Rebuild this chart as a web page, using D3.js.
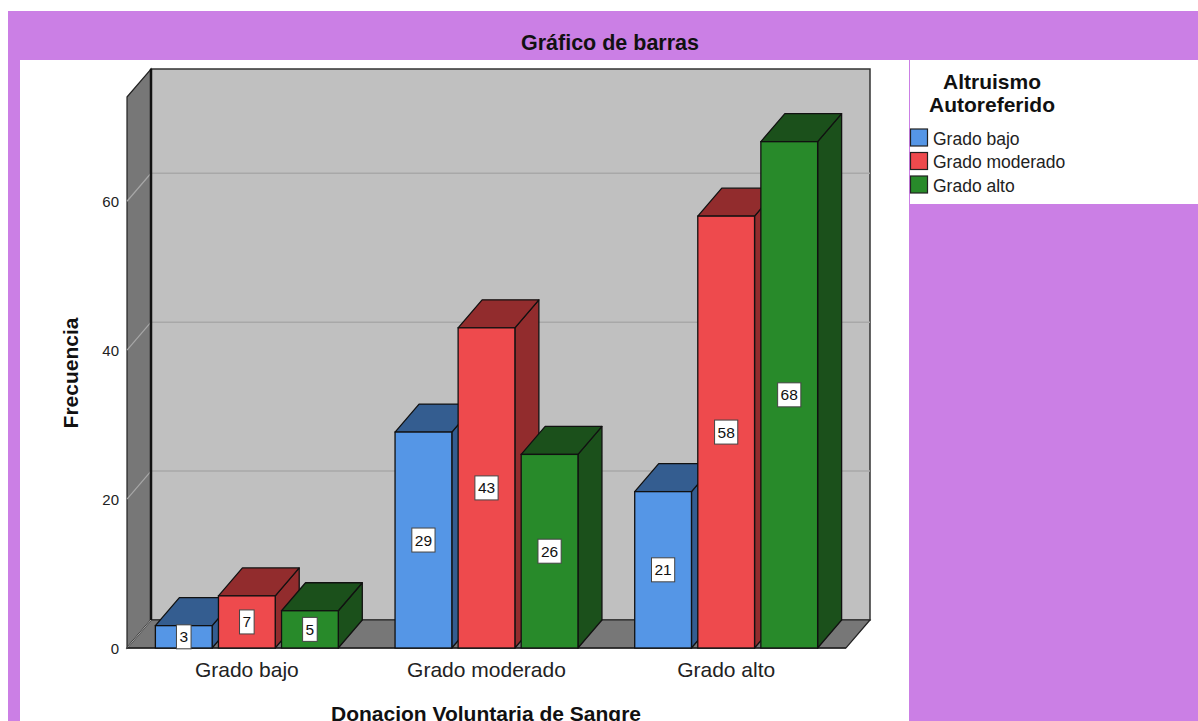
<!DOCTYPE html>
<html>
<head>
<meta charset="utf-8">
<script src="https://cdn.jsdelivr.net/npm/d3@7/dist/d3.min.js"></script>
<style>
  html, body { margin: 0; padding: 0; background: #ffffff; }
  svg { display: block; }
  text { font-family: "Liberation Sans", Arial, sans-serif; }
</style>
</head>
<body>
<svg id="chart" width="1198" height="721"></svg>
<script>
// ---- data ----
const categories = ["Grado bajo", "Grado moderado", "Grado alto"];
const series = ["Grado bajo", "Grado moderado", "Grado alto"];
const valuesBajo = [3, 29, 21];       // Altruismo: Grado bajo
const valuesModerado = [7, 43, 58];   // Altruismo: Grado moderado
const valuesAlto = [5, 26, 68];       // Altruismo: Grado alto
const yTicks = [0, 20, 40, 60];
const yMax = 74;

const chartTitle = "Gráfico de barras";
const xTitle = "Donacion Voluntaria de Sangre";
const yTitle = "Frecuencia";
const legendTitle = ["Altruismo", "Autoreferido"];

const seriesValues = [valuesBajo, valuesModerado, valuesAlto];
const frontColors = ["#5596E6", "#EE4A4D", "#288A2A"];
const darkColors  = ["#345D90", "#922C2D", "#1B501B"];

// ---- layout ----
const svg = d3.select("#chart");
const purple = "#CB7FE5";
const dx = 24, dy = -28;
const floorY = 648;

// backgrounds
svg.append("rect").attr("x", 8).attr("y", 11).attr("width", 1190).attr("height", 710).attr("fill", purple);
svg.append("rect").attr("x", 20).attr("y", 60).attr("width", 889).attr("height", 661).attr("fill", "#ffffff");
svg.append("rect").attr("x", 910).attr("y", 60).attr("width", 288).attr("height", 144).attr("fill", "#ffffff");

// title
svg.append("text").attr("x", 610).attr("y", 50).attr("text-anchor", "middle")
  .attr("font-size", 21.5).attr("font-weight", "bold").attr("fill", "#111").text(chartTitle);

// scales
const x0 = d3.scaleBand().domain(categories).range([127, 846]).padding(0);
const x1 = d3.scaleBand().domain(series).range([0, x0.bandwidth()]).paddingInner(0.1).paddingOuter(0.45);
const y = d3.scaleLinear().domain([0, yMax]).range([floorY, 97]);

const xL = x0.range()[0], xR = x0.range()[1];
const yTop = y(yMax);

const pts = a => a.map(p => p.join(",")).join(" ");

// back wall
svg.append("polygon")
  .attr("points", pts([[xL + dx, yTop + dy], [xR + dx, yTop + dy], [xR + dx, floorY + dy], [xL + dx, floorY + dy]]))
  .attr("fill", "#C0C0C0").attr("stroke", "#333").attr("stroke-width", 1.5);
// left wall
svg.append("polygon")
  .attr("points", pts([[xL, yTop], [xL + dx, yTop + dy], [xL + dx, floorY + dy], [xL, floorY]]))
  .attr("fill", "#777777").attr("stroke", "#222").attr("stroke-width", 1.2);
// floor
svg.append("polygon")
  .attr("points", pts([[xL, floorY], [xL + dx, floorY + dy], [xR + dx, floorY + dy], [xR, floorY]]))
  .attr("fill", "#777777").attr("stroke", "#222").attr("stroke-width", 1.2);

// gridlines
const grid = yTicks.filter(t => t > 0);
svg.selectAll(".gridBack").data(grid).enter().append("line")
  .attr("x1", xL + dx).attr("x2", xR + dx)
  .attr("y1", d => y(d) + dy).attr("y2", d => y(d) + dy)
  .attr("stroke", "#A8A8A8").attr("stroke-width", 1.5);
svg.selectAll(".gridSide").data(grid).enter().append("line")
  .attr("x1", xL).attr("x2", xL + dx)
  .attr("y1", d => y(d)).attr("y2", d => y(d) + dy)
  .attr("stroke", "#A8A8A8").attr("stroke-width", 1.2);
svg.append("line").attr("x1", xL).attr("y1", floorY).attr("x2", xL + dx).attr("y2", floorY + dy)
  .attr("stroke", "#A8A8A8").attr("stroke-width", 1);

// strong back-left corner line
svg.append("line").attr("x1", xL + dx).attr("x2", xL + dx).attr("y1", yTop + dy).attr("y2", floorY + dy)
  .attr("stroke", "#111").attr("stroke-width", 2.5);
// front floor edge
svg.append("line").attr("x1", xL).attr("x2", xR).attr("y1", floorY).attr("y2", floorY)
  .attr("stroke", "#222").attr("stroke-width", 1.5);

// y tick labels
svg.selectAll(".ytick").data(yTicks).enter().append("text")
  .attr("x", 119).attr("y", d => y(d) + 5.5).attr("text-anchor", "end")
  .attr("font-size", 15).attr("fill", "#222").text(d => d);

// bars
const bars = [];
categories.forEach((c, ci) => {
  series.forEach((s, si) => {
    bars.push({ cat: c, ser: s, si: si, v: seriesValues[si][ci] });
  });
});

const barG = svg.append("g");
bars.forEach(b => {
  const bx = x0(b.cat) + x1(b.ser);
  const w = x1.bandwidth();
  const yv = y(b.v), y0 = y(0);
  const g = barG.append("g");
  g.append("polygon")
    .attr("points", pts([[bx + w, yv], [bx + w + dx, yv + dy], [bx + w + dx, y0 + dy], [bx + w, y0]]))
    .attr("fill", darkColors[b.si]).attr("stroke", "#111").attr("stroke-width", 1.3).attr("stroke-linejoin", "round");
  g.append("polygon")
    .attr("points", pts([[bx, yv], [bx + dx, yv + dy], [bx + w + dx, yv + dy], [bx + w, yv]]))
    .attr("fill", darkColors[b.si]).attr("stroke", "#111").attr("stroke-width", 1.3).attr("stroke-linejoin", "round");
  g.append("rect").attr("x", bx).attr("y", yv).attr("width", w).attr("height", y0 - yv)
    .attr("fill", frontColors[b.si]).attr("stroke", "#111").attr("stroke-width", 1.3);
});

// data labels
bars.forEach(b => {
  const cx = x0(b.cat) + x1(b.ser) + x1.bandwidth() / 2;
  const cy = (y(b.v) + y(0)) / 2;
  const txt = String(b.v);
  const tw = txt.length * 8.6 + 6;
  svg.append("rect").attr("x", cx - tw / 2).attr("y", cy - 12).attr("width", tw).attr("height", 24)
    .attr("fill", "#ffffff").attr("stroke", "#444").attr("stroke-width", 1);
  svg.append("text").attr("x", cx).attr("y", cy + 5.5).attr("text-anchor", "middle")
    .attr("font-size", 15.5).attr("fill", "#111").text(txt);
});

// category labels
svg.selectAll(".xlab").data(categories).enter().append("text")
  .attr("x", d => x0(d) + x0.bandwidth() / 2).attr("y", 677).attr("text-anchor", "middle")
  .attr("font-size", 21).attr("fill", "#222").text(d => d);

// axis titles
svg.append("text").attr("x", 486).attr("y", 721).attr("text-anchor", "middle")
  .attr("font-size", 21).attr("font-weight", "bold").attr("fill", "#111").text(xTitle);
svg.append("text").attr("transform", "translate(78,373) rotate(-90)").attr("text-anchor", "middle")
  .attr("font-size", 21).attr("font-weight", "bold").attr("fill", "#111").text(yTitle);

// legend
svg.selectAll(".ltitle").data(legendTitle).enter().append("text")
  .attr("x", 992).attr("y", (d, i) => 89 + i * 23).attr("text-anchor", "middle")
  .attr("font-size", 21).attr("font-weight", "bold").attr("fill", "#111").text(d => d);
const leg = svg.selectAll(".leg").data(series).enter().append("g")
  .attr("transform", (d, i) => `translate(910, ${129 + i * 23.5})`);
leg.append("rect").attr("x", 0.5).attr("y", 0).attr("width", 17).attr("height", 17)
  .attr("fill", (d, i) => frontColors[i]).attr("stroke", "#222").attr("stroke-width", 1.2);
leg.append("text").attr("x", 23).attr("y", 15.5)
  .attr("font-size", 17.5).attr("fill", "#222").text(d => d);
</script>
</body>
</html>
